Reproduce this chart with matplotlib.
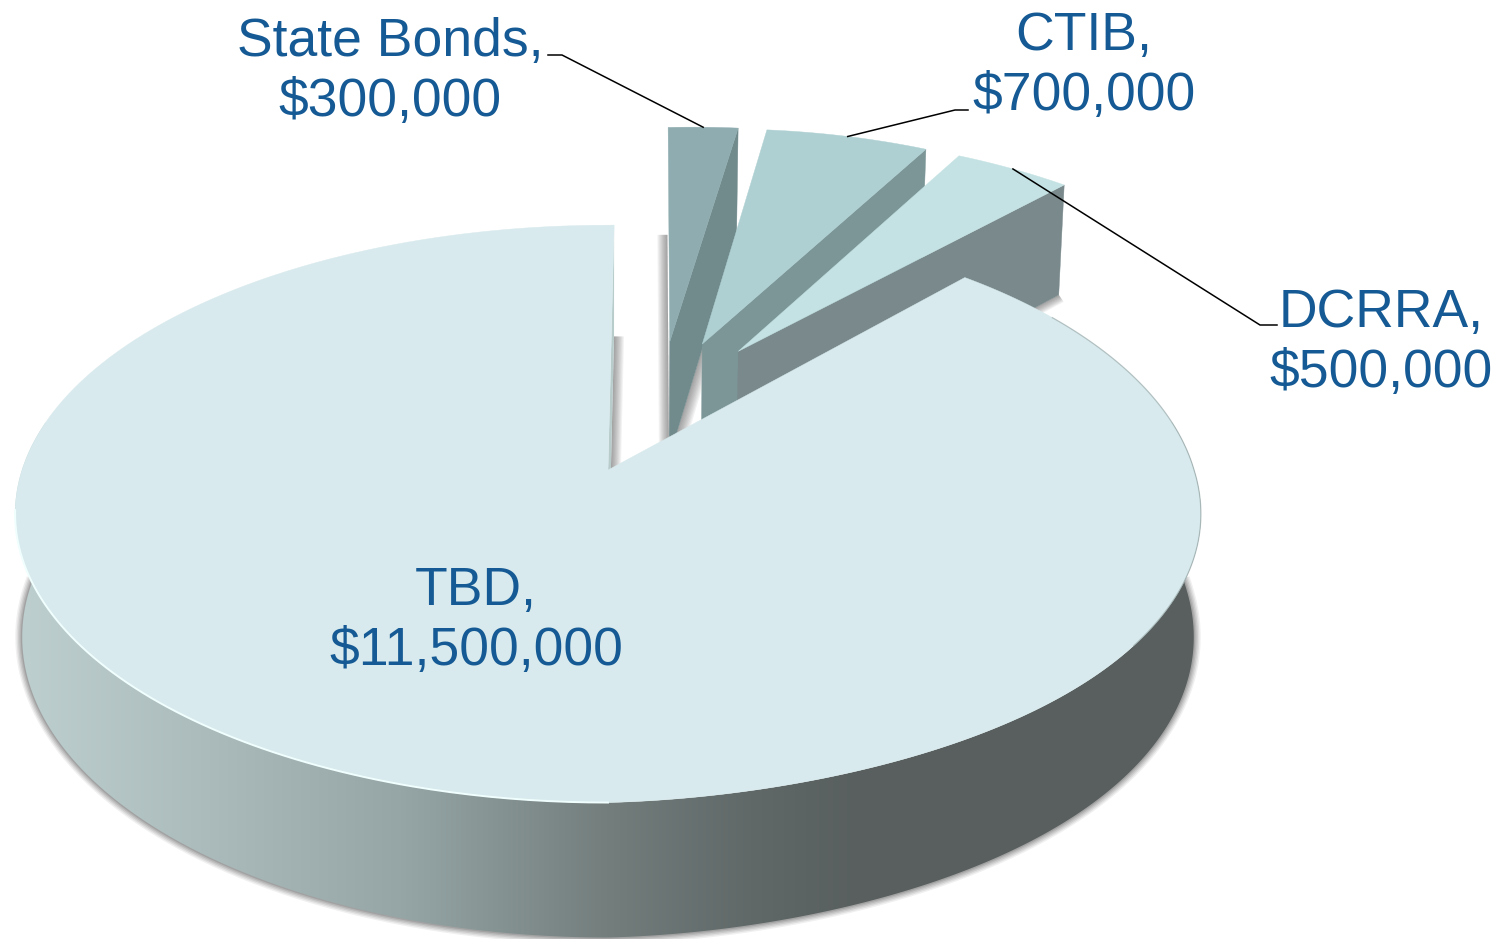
import numpy as np
import matplotlib
matplotlib.use("Agg")
import matplotlib.pyplot as plt
from matplotlib.patches import Polygon

names = ["State Bonds", "CTIB", "DCRRA", "TBD"]
values = [300000, 700000, 500000, 11500000]
top_colors = ["#8fadb0", "#aed0d2", "#c4e2e3", "#d8eaed"]
wall_colors = ["#718a8c", "#7c9697", "#79898c", "#b8cccc"]
label_pos = [(390, 72), (1084, 66), (1381, 343), (476, 621)]
elbows = [[(562, 55), (548, 55)], [(955, 110), (968, 110)], [(1260, 325), (1277, 325)], None]

text_color = "#155a94"

# perspective of the pie plane, fitted by eye
ox, oy = 608, 470
sx, sy = 586, 282
k = 0.152
start = 0.68
explode = 0.25


def project(u, v):
    w = 1 - k * v
    x = ox + sx * u / w
    y = oy + sy * v / w
    # the original leans a little on the right hand side
    dx = np.clip(x - ox, 0, 592)
    y = y - 5 * np.sin(np.pi * dx / 592)
    x = x + 0.011 * dx * np.clip(-v, 0, 1)
    return x, y


def lower(u, v):
    x, y = project(u, v)
    w = 1 - k * v
    return x + (ox - x) * 0.012, y + 45.6 + 75.8 / w


def direction(t):
    t = np.radians(t)
    return np.sin(t), -np.cos(t)


def arc(apex, t0, t1, n=200):
    t = np.linspace(t0, t1, n)
    du, dv = direction(t)
    return apex[0] + du, apex[1] + dv


def strip(p0, p1, off, col="#444444", alpha=0.065, n=9, z=1):
    for i in range(1, n + 1):
        f = i / n
        pts = [p0, p1, (p1[0] + off[0] * f, p1[1] + off[1] * f), (p0[0] + off[0] * f, p0[1] + off[1] * f)]
        ax.add_patch(Polygon(pts, closed=True, fc=col, ec="none", alpha=alpha, zorder=z))


fig = plt.figure(figsize=(15.1, 9.39), dpi=100)
ax = fig.add_axes([0, 0, 1, 1])
ax.set_axis_off()

vals = np.array(values, dtype=float)
sweep = vals / vals.sum() * 360
ends = start + np.cumsum(sweep)
starts = ends - sweep
mids = (starts + ends) / 2

# the big slice sits with its point on (ox, oy), the rest follow from that
cu, cv = direction(mids[3])
cu, cv = -explode * cu, -explode * cv
apexes = []
for m in mids:
    du, dv = direction(m)
    apexes.append((cu + explode * du, cv + explode * dv))

# TBD outer wall, with gradient
a = apexes[3]
u, v = arc(a, 80, 280, 400)
tx, ty = project(u, v)
bx, by = lower(u, v)
for lw, al in zip([10, 8, 6, 4, 2], [0.08, 0.1, 0.12, 0.14, 0.18]):
    ax.plot(bx[15:-15], by[15:-15], color="#444444", lw=lw, alpha=al, zorder=1, solid_capstyle="butt")

wall = Polygon(np.r_[np.c_[tx, ty], np.c_[bx, by][::-1]], closed=True, fc="none", ec="none", zorder=2)
ax.add_patch(wall)
stop_x = [0, 20, 200, 400, 600, 750, 860, 1510]
stop_r = [190, 190, 172, 150, 116, 96, 88, 88]
stop_g = [207, 207, 188, 166, 127, 104, 95, 95]
stop_b = [207, 207, 188, 166, 126, 104, 94, 94]
xs = np.arange(1510)
grad = np.dstack([np.interp(xs, stop_x, stop_r), np.interp(xs, stop_x, stop_g), np.interp(xs, stop_x, stop_b)])
grad = grad.astype(np.uint8)
im = ax.imshow(grad, extent=(0, 1510, 939, 0), aspect="auto", zorder=2)
im.set_clip_path(wall)

# TBD cut face next to the gap
u, v = arc(a, starts[3] + sweep[3], starts[3] + sweep[3], 2)
rim = (u[0], v[0])
p_apex = lower(*a)
p_rim = lower(*rim)
strip(p_rim, p_apex, (10, 0), z=1)
ax.add_patch(Polygon([project(*a), project(*rim), p_rim, p_apex], closed=True,
                     fc=wall_colors[3], ec="none", zorder=3))

# small slices, back to front
for i in range(3):
    a = apexes[i]
    d0 = direction(starts[i])
    d1 = direction(ends[i])
    r0 = (a[0] + d0[0], a[1] + d0[1])
    r1 = (a[0] + d1[0], a[1] + d1[1])
    if i == 0:
        strip(lower(*r0), lower(*a), (-10, 0), z=3)
        strip(lower(*a), lower(*r1), (12, 0), z=3)
    if i == 2:
        strip(lower(*r1), lower(*a), (5, 7), z=3)
    z = 4 + i
    u, v = arc(a, starts[i], ends[i], 60)
    ax.add_patch(Polygon([project(*r1), project(*a), lower(*a), lower(*r1)], closed=True,
                         fc=wall_colors[i], ec=wall_colors[i], lw=0.3, zorder=z))
    px, py = project(u, v)
    ax.add_patch(Polygon(np.r_[[project(*a)], np.c_[px, py]], closed=True,
                         fc=top_colors[i], ec=top_colors[i], lw=0.3, zorder=z + 0.5))

# TBD top
a = apexes[3]
u, v = arc(a, starts[3], ends[3], 500)
px, py = project(u, v)
ax.add_patch(Polygon(np.r_[[project(*a)], np.c_[px, py]], closed=True,
                     fc=top_colors[3], ec=top_colors[3], lw=0.3, zorder=8))

# rim light on the left, darker on the right
u, v = arc(a, 180, 262, 150)
px, py = project(u, v)
ax.plot(px, py, color="#f0fefe", lw=1.4, zorder=9)
u, v = arc(a, 55, 125, 100)
px, py = project(u, v)
ax.plot(px, py, color="#8c9c9c", lw=0.9, alpha=0.55, zorder=9)

# leaders and labels
for i, name in enumerate(names):
    txt = f"{name},\n${values[i]:,}"
    ax.text(label_pos[i][0], label_pos[i][1], txt, color=text_color, fontsize=38.5,
            family=["Liberation Sans", "DejaVu Sans"], ha="center", va="center",
            linespacing=1.27, zorder=12)
    if elbows[i] is None:
        continue
    du, dv = direction(mids[i])
    anchor = project(apexes[i][0] + du, apexes[i][1] + dv)
    pts = [anchor] + elbows[i]
    ax.plot([p[0] for p in pts], [p[1] for p in pts], color="black", lw=1.1, zorder=11)

ax.set_xlim(0, 1510)
ax.set_ylim(939, 0)

fig.savefig("out.png", dpi=100, facecolor="white")
